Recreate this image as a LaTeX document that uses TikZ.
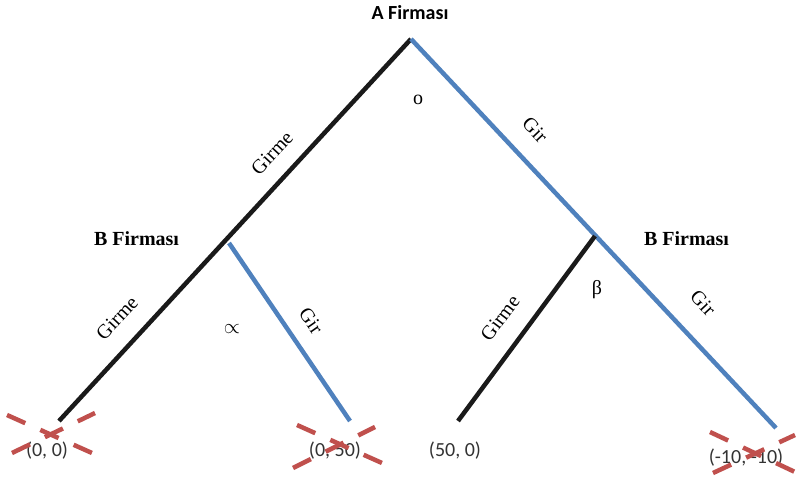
\documentclass[tikz,border=0pt]{standalone}
\usepackage{fontspec}
\setmainfont{Liberation Serif}
\newfontfamily\calibri{Carlito}
\usetikzlibrary{calc}
\definecolor{mblue}{HTML}{4F81BD}
\definecolor{mred}{HTML}{C0504D}
\definecolor{mblack}{HTML}{1A1A1A}
\definecolor{mgray}{HTML}{333333}
\begin{document}
\begin{tikzpicture}[x=1pt,y=-1pt,
  blackedge/.style={draw=mblack,line width=4.5pt},
  blueedge/.style={draw=mblue,line width=4.5pt},
  lbl/.style={font=\fontsize{20}{22}\selectfont,inner sep=0pt},
  firm/.style={font=\fontsize{20}{22}\selectfont\bfseries,inner sep=0pt},
  firmA/.style={font=\fontsize{20}{22}\selectfont\calibri\bfseries,inner sep=0pt},
  payoff/.style={font=\fontsize{20}{22}\selectfont\calibri,text=mgray,inner sep=0pt},
  cross/.style={draw=mred,line width=4.5pt,dash pattern=on 20pt off 16.5pt}]
\useasboundingbox (0,0) rectangle (800,484);
% decision points and ends
\coordinate (A) at (411,39);
\coordinate (LL) at (59,421);
\coordinate (RR) at (776,428);
\coordinate (BL) at (229,243);
\coordinate (LR) at (350,421);
\coordinate (BR) at (595,236);
\coordinate (RL) at (458,421);
% edges
\draw[blackedge] (A) -- (LL);
\draw[blueedge] (A) -- (RR);
\draw[blueedge] (BL) -- (LR);
\draw[blackedge] (BR) -- (RL);
% labels
\node[firmA] (fa) at (410,13) {A Firması};
\node[firm] (fbl) at (136.5,239) {B Firması};
\node[firm] (fbr) at (686.5,239) {B Firması};
\node[lbl] (o) at (418,100) {o};
\node[lbl,rotate=47] (g1) at (272,153) {Girme};
\node[lbl,rotate=-46.5] (g2) at (535,130) {Gir};
\node[lbl,rotate=47] (g3) at (117,318) {Girme};
\node[lbl] (al) at (232,329) {$\propto$};
\node[lbl,rotate=-55] (g4) at (311,321) {Gir};
\node[lbl,rotate=53] (g5) at (500,318) {Girme};
\node[lbl] (be) at (597,290) {β};
\node[lbl,rotate=-47] (g6) at (703,303) {Gir};
% payoffs
\node[payoff] (p1) at (47,451) {(0, 0)};
\node[payoff] (p2) at (335,451) {(0, 50)};
\node[payoff] (p3) at (455,451) {(50, 0)};
\node[payoff] (p4) at (746,458) {(-10, -10)};
% crosses
\coordinate (c1a) at (7,415); \coordinate (c1b) at (92,453);
\coordinate (c1c) at (12,453); \coordinate (c1d) at (95,413);
\coordinate (c2a) at (297,425); \coordinate (c2b) at (382,463);
\coordinate (c2c) at (293,468); \coordinate (c2d) at (375,427);
\coordinate (c3a) at (710,432); \coordinate (c3b) at (795,472);
\coordinate (c3c) at (713,473); \coordinate (c3d) at (795,435);
\draw[cross] (c1a) -- (c1b);
\draw[cross] (c1c) -- (c1d);
\draw[cross] (c2a) -- (c2b);
\draw[cross] (c2c) -- (c2d);
\draw[cross] (c3a) -- (c3b);
\draw[cross] (c3c) -- (c3d);
\end{tikzpicture}
\end{document}
